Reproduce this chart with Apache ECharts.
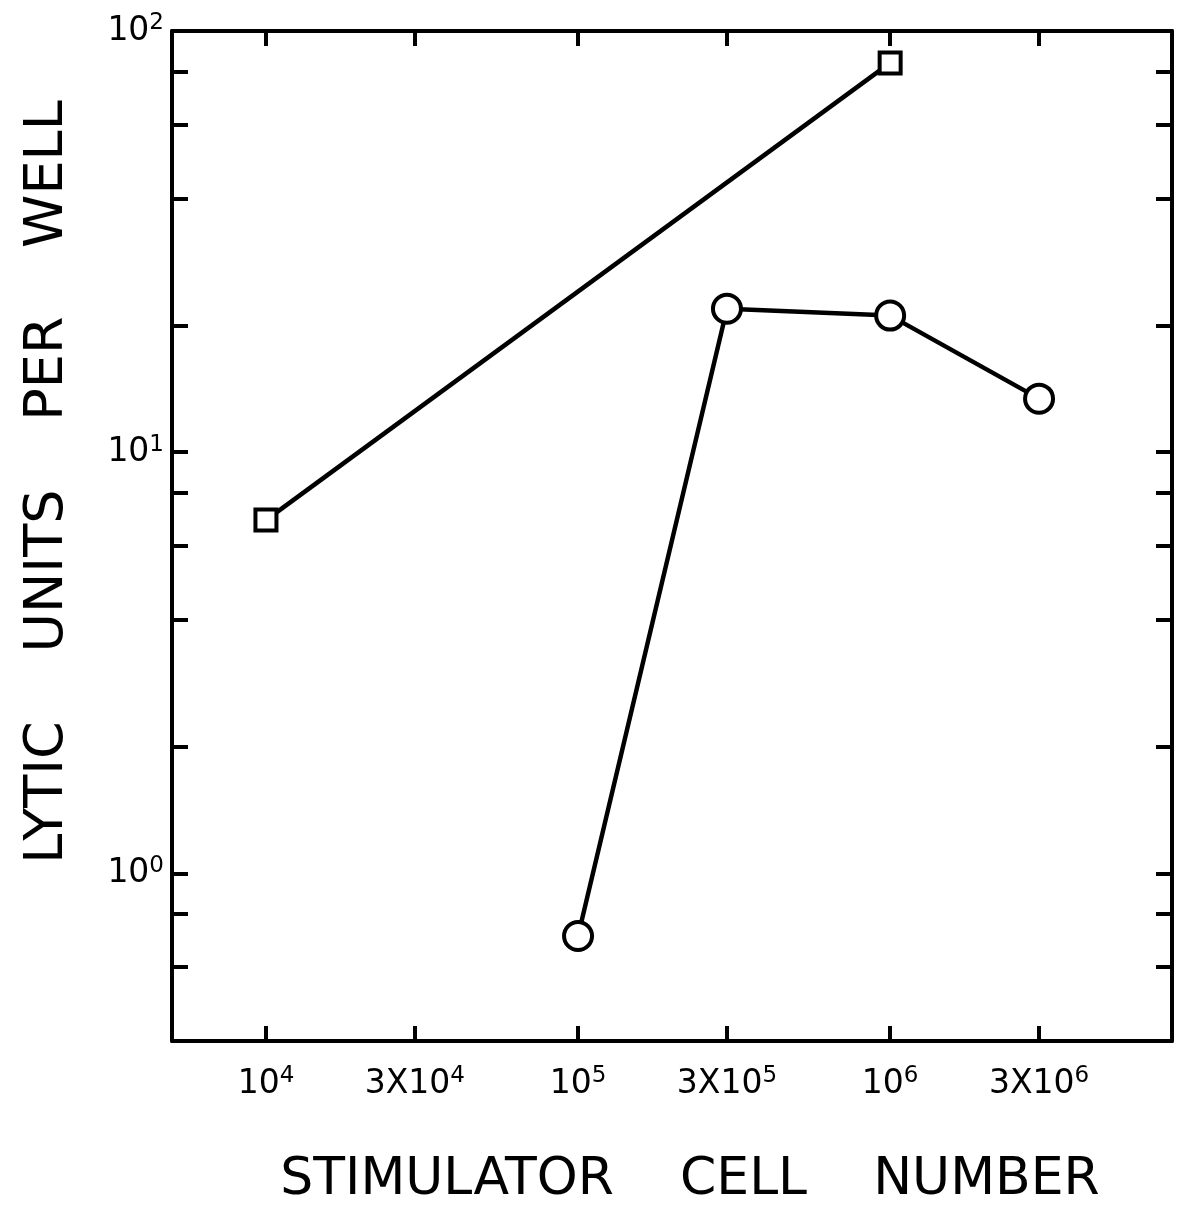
<!DOCTYPE html>
<html>
<head>
<meta charset="utf-8">
<script src="https://cdn.jsdelivr.net/npm/echarts@6/dist/echarts.min.js"></script>
<style>
  html, body { margin: 0; padding: 0; background: #fff; }
  #chart { width: 1177px; height: 1205px; }
</style>
</head>
<body>
<div id="chart"></div>
<script>
// tick positions and labels (label = [base, exponent])
const xTickValues = [1e4, 3e4, 1e5, 3e5, 1e6, 3e6];
const xTickLabels = [['10', '4'], ['3X10', '4'], ['10', '5'], ['3X10', '5'], ['10', '6'], ['3X10', '6']];
const yTickValues = [0.6, 0.8, 1, 2, 4, 6, 8, 10, 20, 40, 60, 80, 100];
const yLabelValues = [1, 10, 100];
const yTickLabels = [['10', '0'], ['10', '1'], ['10', '2']];

// squares
const squareX = [1e4, 1e6];
const squareY = [6.9, 84];
// circles
const circleX = [1e5, 3e5, 1e6, 3e6];
const circleY = [0.71, 21.9, 21.1, 13.4];

const FONT = 'DejaVu Sans';
const rich = {
  n: { fontSize: 33, fontFamily: FONT, color: '#000', lineHeight: 38 },
  s: { fontSize: 23, fontFamily: FONT, color: '#000', lineHeight: 23, verticalAlign: 'top' }
};

const findLabel = (values, labels) => value => {
  const i = values.findIndex(v => Math.abs(v - value) / v < 1e-6);
  if (i < 0) return '';
  return '{n|' + labels[i][0] + '}{s|' + labels[i][1] + '}';
};

const axisLine = { show: true, lineStyle: { color: '#000', width: 4 } };
const tickStyle = { color: '#000', width: 4 };

const chart = echarts.init(document.getElementById('chart'));

const makeX = (pos, withLabels) => ({
  type: 'log',
  logBase: 10,
  min: 5000,
  max: 8e6,
  position: pos,
  axisLine: axisLine,
  axisTick: { show: true, inside: true, length: 15, customValues: xTickValues, lineStyle: tickStyle },
  axisLabel: withLabels
    ? { show: true, customValues: xTickValues, formatter: findLabel(xTickValues, xTickLabels), rich: rich, margin: 24 }
    : { show: false },
  splitLine: { show: false },
  minorTick: { show: false }
});

const makeY = (pos, withLabels) => ({
  type: 'log',
  logBase: 10,
  min: 0.4,
  max: 100,
  position: pos,
  axisLine: axisLine,
  axisTick: { show: true, inside: true, length: 16, customValues: yTickValues, lineStyle: tickStyle },
  axisLabel: withLabels
    ? { show: true, customValues: yLabelValues, formatter: findLabel(yLabelValues, yTickLabels), rich: rich, margin: 8 }
    : { show: false },
  splitLine: { show: false },
  minorTick: { show: false }
});

const option = {
  animation: false,
  backgroundColor: '#fff',
  grid: { left: 172, top: 31, width: 1000, height: 1010, containLabel: false, outerBoundsMode: 'none' },
  xAxis: [makeX('bottom', true), makeX('top', false)],
  yAxis: [makeY('left', true), makeY('right', false)],
  graphic: [
    {
      type: 'text',
      x: 690,
      y: 1180,
      style: {
        text: 'STIMULATOR    CELL    NUMBER',
        font: '52px "DejaVu Sans"',
        fill: '#000',
        textAlign: 'center',
        textVerticalAlign: 'middle'
      }
    },
    {
      type: 'text',
      x: 48,
      y: 482,
      rotation: Math.PI / 2,
      style: {
        text: 'LYTIC    UNITS    PER    WELL',
        font: '54px "DejaVu Sans"',
        fill: '#000',
        textAlign: 'center',
        textVerticalAlign: 'middle'
      }
    }
  ],
  series: [
    {
      type: 'line',
      xAxisIndex: 0,
      yAxisIndex: 0,
      data: squareX.map((x, i) => [x, squareY[i]]),
      symbol: 'rect',
      symbolSize: 21,
      lineStyle: { color: '#000', width: 4.5 },
      itemStyle: { color: '#fff', borderColor: '#000', borderWidth: 4 },
      emphasis: { disabled: true }
    },
    {
      type: 'line',
      xAxisIndex: 0,
      yAxisIndex: 0,
      data: circleX.map((x, i) => [x, circleY[i]]),
      symbol: 'circle',
      symbolSize: 28,
      lineStyle: { color: '#000', width: 4.5 },
      itemStyle: { color: '#fff', borderColor: '#000', borderWidth: 4 },
      emphasis: { disabled: true }
    }
  ]
};

chart.setOption(option);
</script>
</body>
</html>
